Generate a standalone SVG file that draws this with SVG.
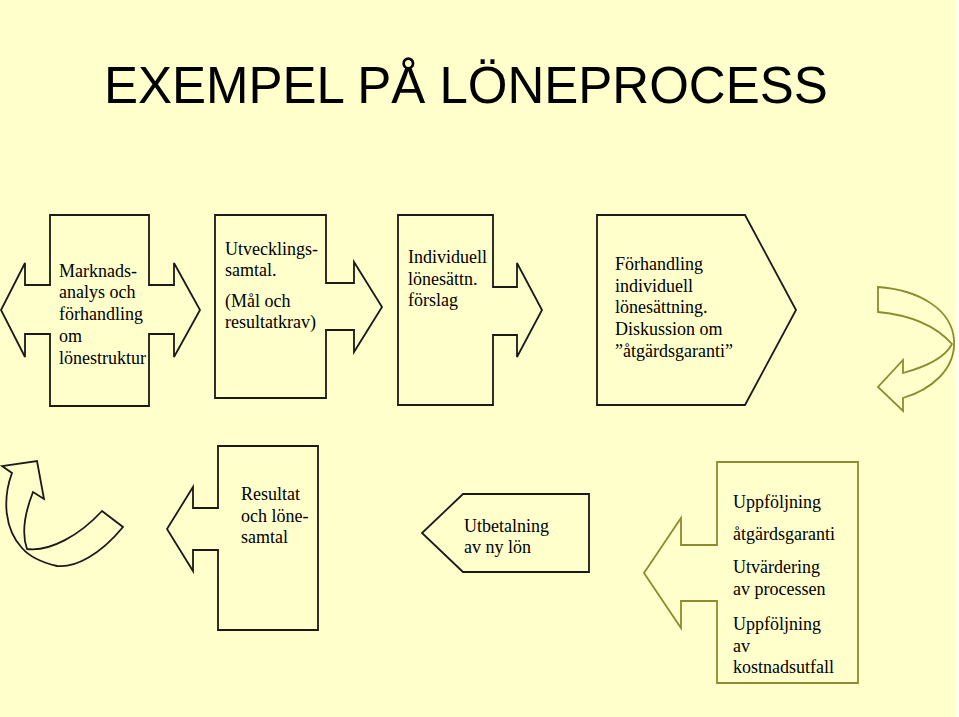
<svg xmlns="http://www.w3.org/2000/svg" width="959" height="717" viewBox="0 0 959 717">
<style>
.bg{fill:#FFFFCC}
.shape{fill:#FFFFCC;stroke:#1a1a1a;stroke-width:1.8;stroke-linejoin:miter}
.olive{fill:#FFFFCC;stroke:#8C8C2E;stroke-width:1.8}
.t{font-family:"Liberation Serif","Times New Roman",serif;font-size:18px;fill:#000}
.title{font-family:"Liberation Sans",Arial,sans-serif;font-size:51px;fill:#000}
</style>
<rect class="bg" x="0" y="0" width="955" height="717"/>
<rect x="955" y="0" width="4" height="717" fill="#FFFFF0"/>
<text class="title" x="104" y="103">EXEMPEL PÅ LÖNEPROCESS</text>

<g id="node-marknad">
<path class="shape" d="M50,215 H149 V285 H174 V263 L200,310 L174,357 V334 H149 V406 H50 V334 H25 V357 L1,310 L25,263 V285 H50 Z"/>
<text class="t" x="59" y="277">Marknads-</text>
<text class="t" x="59" y="298">analys och</text>
<text class="t" x="59" y="320">förhandling</text>
<text class="t" x="59" y="342">om</text>
<text class="t" x="59" y="364">lönestruktur</text>
</g>

<g id="node-utveckling">
<path class="shape" d="M215,215 H326 V283 H354 V262 L382,307 L354,352 V330 H326 V398 H215 Z"/>
<text class="t" x="225" y="255">Utvecklings-</text>
<text class="t" x="225" y="276">samtal.</text>
<text class="t" x="225" y="307">(Mål och</text>
<text class="t" x="225" y="328">resultatkrav)</text>
</g>

<g id="node-individuell">
<path class="shape" d="M398,215 H493 V287 H517 V263 L542,310 L517,357 V335 H493 V405 H398 Z"/>
<text class="t" x="408" y="263">Individuell</text>
<text class="t" x="408" y="285">lönesättn.</text>
<text class="t" x="408" y="306">förslag</text>
</g>

<g id="node-forhandling">
<path class="shape" d="M597,215 H745 L796,310 L745,405 H597 Z"/>
<text class="t" x="615" y="270">Förhandling</text>
<text class="t" x="615" y="292">individuell</text>
<text class="t" x="615" y="313">lönesättning.</text>
<text class="t" x="615" y="335">Diskussion om</text>
<text class="t" x="615" y="357">”åtgärdsgaranti”</text>
</g>

<g id="node-resultat">
<path class="shape" d="M218,446 H318 V630 H218 V550 H193 V571 L167,529 L193,487 V508 H218 Z"/>
<text class="t" x="241" y="500">Resultat</text>
<text class="t" x="241" y="522">och löne-</text>
<text class="t" x="241" y="543">samtal</text>
</g>

<g id="node-utbetalning">
<path class="shape" d="M463,494 H589 V572 H463 L422,533 Z"/>
<text class="t" x="464" y="532">Utbetalning</text>
<text class="t" x="464" y="553">av ny lön</text>
</g>

<g id="node-uppfoljning">
<path class="olive" d="M717,462 H858 V683 H717 V601 H681 V628 L644,573 L681,518 V545 H717 Z"/>
<text class="t" x="733" y="508">Uppföljning</text>
<text class="t" x="733" y="540">åtgärdsgaranti</text>
<text class="t" x="733" y="573">Utvärdering</text>
<text class="t" x="733" y="595">av processen</text>
<text class="t" x="733" y="630">Uppföljning</text>
<text class="t" x="733" y="652">av</text>
<text class="t" x="733" y="673">kostnadsutfall</text>
</g>

<g id="connectors">
<path class="olive" d="M878,287 C920,290 952,310 954,340 C956,370 930,390 903,398 L903,411 L878,387 L903,360 L903,373 C925,367 945,358 952,344 C935,325 910,315 878,312 Z"/>
<path class="shape" d="M12,473 L2,466 L37,461 L44,499 L33,492 C24,515 22,535 27,549 C50,552 80,535 102,511 L123,527 C100,555 75,568 57,566 C40,562 28,555 22,548 C5,530 2,500 12,473 Z"/>
</g>
</svg>
